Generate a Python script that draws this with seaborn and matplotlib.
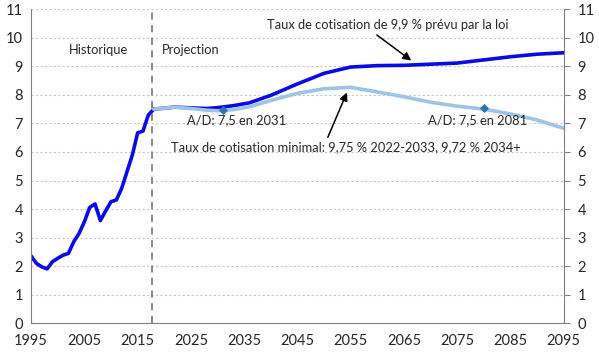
import numpy as np
import pandas as pd
import seaborn as sns
import matplotlib.pyplot as plt

# historique
hist_years = list(range(1995, 2019))
hist_vals = [2.36, 2.10, 1.98, 1.91, 2.16, 2.28, 2.39, 2.45, 2.86, 3.15, 3.56, 4.06,
             4.18, 3.60, 3.94, 4.26, 4.32, 4.73, 5.31, 5.89, 6.67, 6.73, 7.29, 7.49]

# projection
proj_years = [2018, 2020, 2022, 2025, 2028, 2030, 2033, 2036, 2040, 2045, 2050,
              2055, 2060, 2065, 2070, 2075, 2080, 2085, 2090, 2095]
loi_vals = [7.50, 7.53, 7.57, 7.54, 7.52, 7.55, 7.62, 7.72, 7.98, 8.38, 8.75,
            8.97, 9.02, 9.03, 9.07, 9.11, 9.22, 9.33, 9.42, 9.47]
min_vals = [7.50, 7.53, 7.57, 7.52, 7.46, 7.44, 7.48, 7.58, 7.80, 8.05, 8.21,
            8.26, 8.10, 7.93, 7.74, 7.60, 7.50, 7.33, 7.12, 6.83]

ad_years = [2031, 2080]
ad_vals = [7.47, 7.53]

sns.set_style("white")
plt.rcParams['font.family'] = ['Lato', 'DejaVu Sans']

fig = plt.figure(figsize=(5.99, 3.61), dpi=100)
ax = fig.add_axes([0.052, 0.104, 0.889, 0.871])

dark = '#0a0ae6'
light = '#9dc3e6'

hist_df = pd.DataFrame({'annee': hist_years, 'taux': hist_vals})
loi_df = pd.DataFrame({'annee': proj_years, 'taux': loi_vals})
min_df = pd.DataFrame({'annee': proj_years, 'taux': min_vals})

sns.lineplot(data=hist_df, x='annee', y='taux', ax=ax, color=dark, lw=2.6)
sns.lineplot(data=loi_df, x='annee', y='taux', ax=ax, color=dark, lw=2.6)
sns.lineplot(data=min_df, x='annee', y='taux', ax=ax, color=light, lw=2.6)
ax.scatter(ad_years, ad_vals, marker='D', s=14, color='#2e75b6', zorder=5)

ax.axvline(2017.7, color='#808080', ls=(0, (4, 3)), lw=1.3)

ax.set_xlim(1995, 2095)
ax.set_ylim(0, 11)
ax.set_xticks(range(1995, 2096, 10))
ax.set_xticks(range(1995, 2096, 5), minor=True)
ax.set_yticks(range(0, 12))
ax.set_xlabel('')
ax.set_ylabel('')
ax.yaxis.grid(True, color='#c8c8c8', ls=(0, (2, 2)), lw=0.8)
ax.set_axisbelow(True)

for s in ['left', 'bottom', 'right']:
    ax.spines[s].set_color('#808080')
ax.spines['top'].set_visible(False)
ax.tick_params(axis='both', which='both', direction='out', color='#808080', labelsize=10.5)
ax.tick_params(axis='x', which='both', length=4)
ax.tick_params(axis='y', length=0, pad=6)

ax2 = ax.twinx()
ax2.set_ylim(0, 11)
ax2.set_yticks(range(0, 12))
ax2.tick_params(axis='y', direction='out', length=4, color='#808080', labelsize=10.5, pad=6)
for s in ax2.spines.values():
    s.set_visible(False)

fs = 9.3
ax.text(2007.7, 9.55, 'Historique', fontsize=fs, ha='center', va='center')
ax.text(2019.6, 9.55, 'Projection', fontsize=fs, ha='left', va='center')
ax.text(2039.3, 10.44, 'Taux de cotisation de 9,9 % prévu par la loi', fontsize=fs, ha='left', va='center')
ax.annotate('', xy=(2066.8, 9.14), xytext=(2059.5, 10.15),
            arrowprops=dict(arrowstyle='-|>', color='black', lw=1.1, mutation_scale=12))
ax.text(2024.3, 7.1, 'A/D: 7,5 en 2031', fontsize=fs, ha='left', va='center')
ax.text(2069.5, 7.1, 'A/D: 7,5 en 2081', fontsize=fs, ha='left', va='center')
ax.text(2021.3, 6.18, 'Taux de cotisation minimal: 9,75 % 2022-2033, 9,72 % 2034+', fontsize=fs,
        ha='left', va='center')
ax.annotate('', xy=(2054.5, 8.17), xytext=(2050.5, 6.42),
            arrowprops=dict(arrowstyle='-|>', color='black', lw=1.1, mutation_scale=12))

fig.savefig('out.png', dpi=100)
